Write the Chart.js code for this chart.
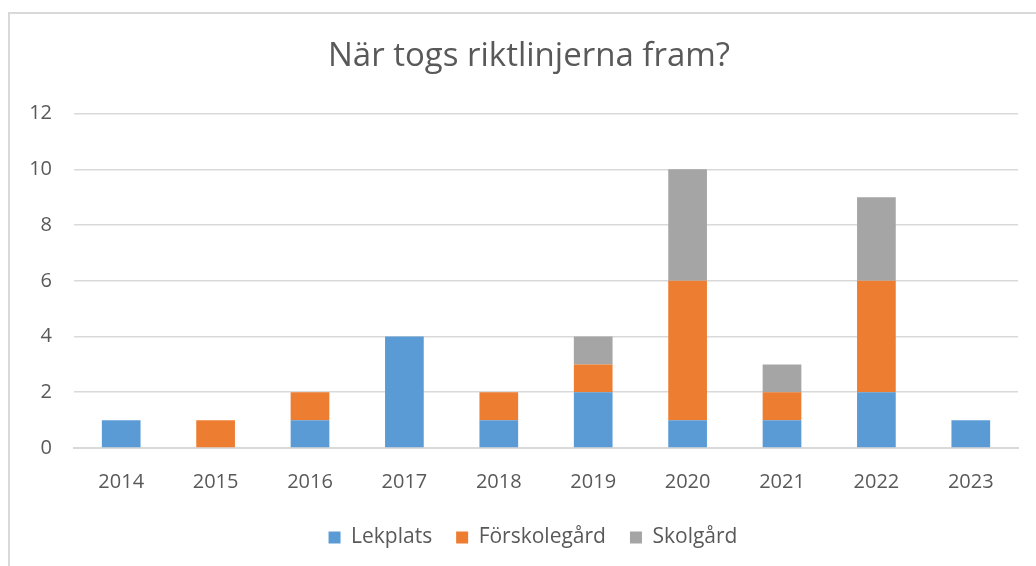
<!DOCTYPE html>
<html>
<head>
<meta charset="utf-8">
<script src="https://cdn.jsdelivr.net/npm/chart.js@4/dist/chart.umd.min.js"></script>
<style>
  html, body { margin: 0; padding: 0; background: #ffffff; overflow: hidden; }
  #frame { position: absolute; left: 8px; top: 12px; width: 1100px; height: 620px; border: 2px solid #d9d9d9; box-sizing: border-box; }
  #wrap { position: absolute; left: 0; top: 0; width: 1036px; height: 566px; }
</style>
</head>
<body>
<div id="frame"></div>
<div id="wrap"><canvas id="c" width="1036" height="566"></canvas></div>
<script>
const titleText = 'När togs riktlinjerna fram?';
const categories = ['2014', '2015', '2016', '2017', '2018', '2019', '2020', '2021', '2022', '2023'];
const seriesNames = ['Lekplats', 'Förskolegård', 'Skolgård'];
const lekplats     = [1, 0, 1, 4, 1, 2, 1, 1, 2, 1];
const forskolegard = [0, 1, 1, 0, 1, 1, 5, 1, 4, 0];
const skolgard     = [0, 0, 0, 0, 0, 1, 4, 1, 3, 0];
const yTicks = [0, 2, 4, 6, 8, 10, 12];

const colors = ['#5B9BD5', '#ED7D31', '#A5A5A5'];
const textColor = '#595959';
const fontFamily = '"Open Sans", "Noto Sans", sans-serif';

const seriesValues = [lekplats, forskolegard, skolgard];

// shift the centred title/legend boxes to match the original's horizontal centring
const centerShift = {
  id: 'centerShift',
  afterLayout(chart) {
    if (chart.titleBlock) { chart.titleBlock.left = 40; }
    if (chart.legend) { chart.legend.left = 48; }
  }
};

new Chart(document.getElementById('c'), {
  type: 'bar',
  data: {
    labels: categories,
    datasets: seriesNames.map((name, i) => ({
      label: name,
      data: seriesValues[i],
      backgroundColor: colors[i],
      borderWidth: 0,
      categoryPercentage: 1.0,
      barPercentage: 0.41
    }))
  },
  plugins: [centerShift],
  options: {
    responsive: false,
    animation: false,
    devicePixelRatio: 1,
    layout: { padding: { left: 0, right: 18, top: 0, bottom: 8 } },
    plugins: {
      title: {
        display: true,
        text: titleText,
        color: textColor,
        font: { family: fontFamily, size: 33, weight: 'normal' },
        padding: { top: 37, bottom: 37 }
      },
      legend: {
        position: 'bottom',
        labels: {
          color: textColor,
          font: { family: fontFamily, size: 21 },
          boxWidth: 12,
          boxHeight: 12,
          padding: 24
        }
      },
      tooltip: { enabled: false }
    },
    scales: {
      x: {
        stacked: true,
        grid: { display: false, drawTicks: false },
        border: { display: true, color: '#d9d9d9', width: 2 },
        ticks: { color: textColor, font: { family: fontFamily, size: 20 }, padding: 22 },
        afterFit: (s) => { s.height = 55; }
      },
      y: {
        stacked: true,
        min: 0,
        max: 12,
        afterBuildTicks: (s) => { s.ticks = yTicks.map(v => ({ value: v })); },
        grid: { color: '#d9d9d9', lineWidth: 1.6, drawTicks: false },
        border: { display: false },
        ticks: { color: textColor, font: { family: fontFamily, size: 20 }, padding: 22 },
        afterFit: (s) => { s.width = 74; }
      }
    }
  }
});
</script>
</body>
</html>
